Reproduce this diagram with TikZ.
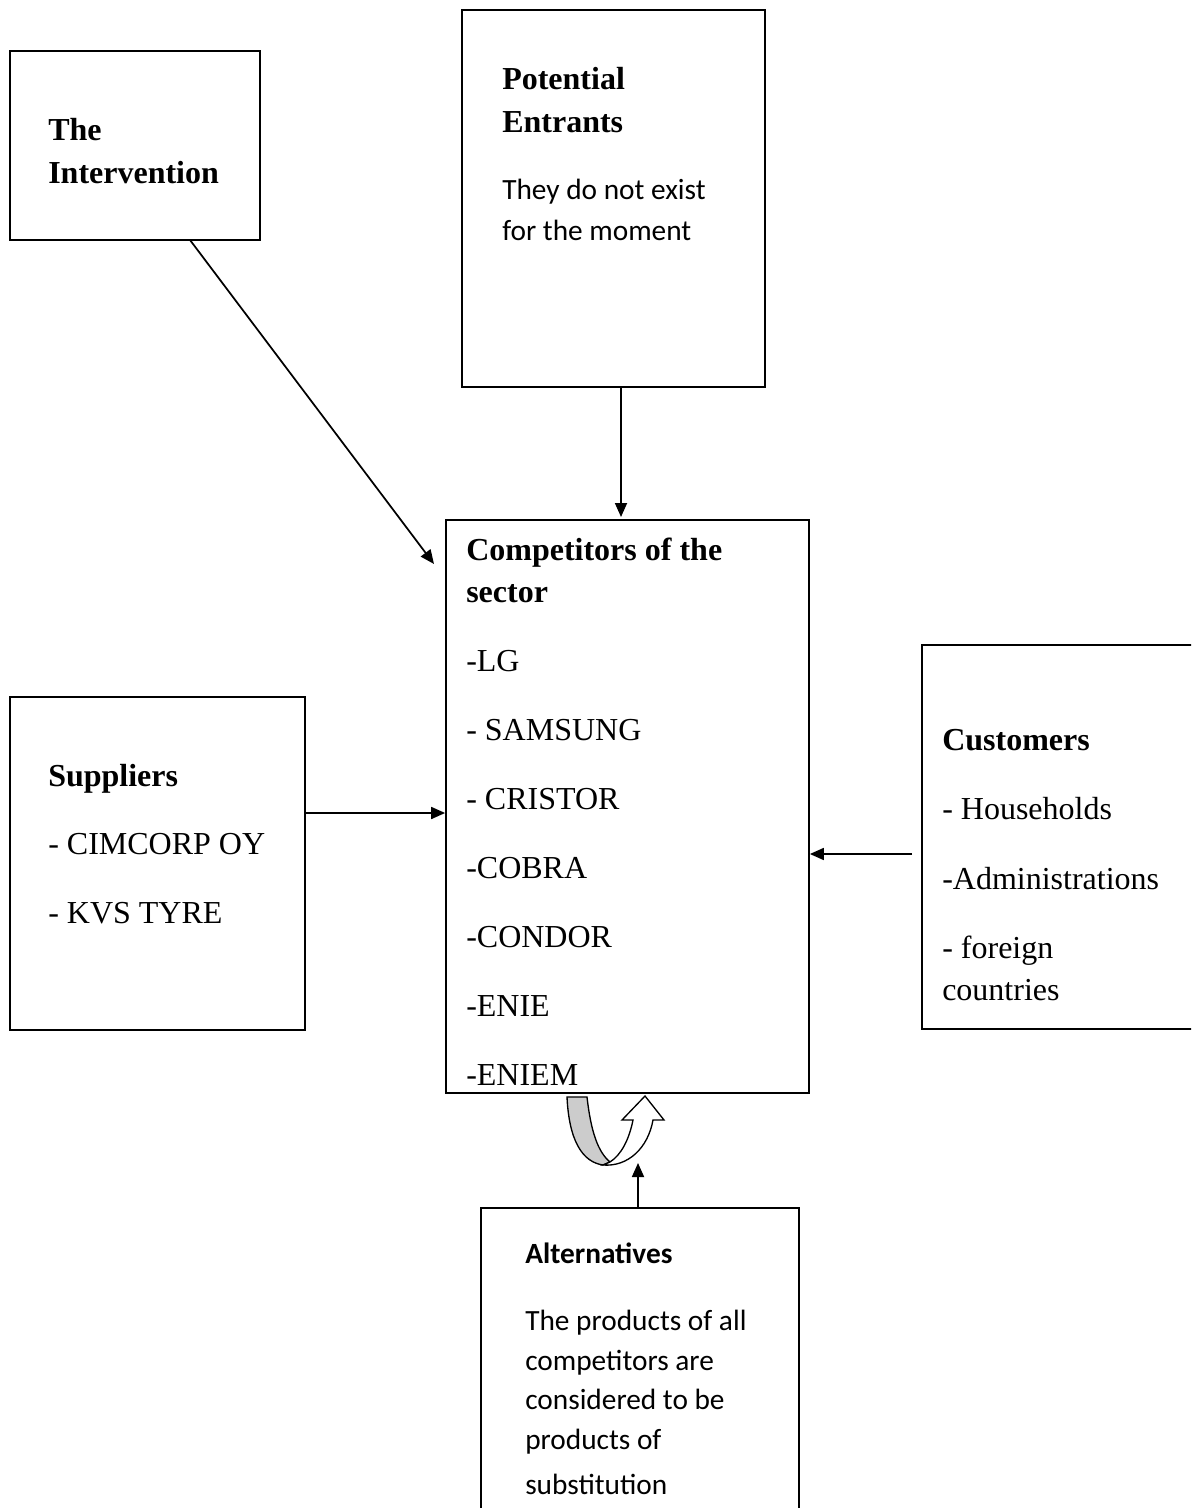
\documentclass[tikz,border=0pt]{standalone}
\usepackage{fontspec}
\setmainfont{Liberation Serif}
\newfontfamily\calfont{Carlito}
\usetikzlibrary{arrows.meta,calc}
\begin{document}
\begin{tikzpicture}[x=0.75pt,y=-0.75pt,
  box/.style={draw,line width=1.3pt,rectangle,inner sep=0pt},
  txt/.style={anchor=base west,inner sep=0pt,font=\fontsize{24}{29}\selectfont},
  btxt/.style={txt,font=\fontsize{24}{29}\selectfont\bfseries},
  stxt/.style={anchor=base west,inner sep=0pt,font=\calfont\fontsize{22}{26}\selectfont},
  sbtxt/.style={stxt,font=\calfont\fontsize{22}{26}\selectfont\bfseries},
  arr/.style={line width=1.3pt,-{Triangle[length=10.5pt,width=9pt]}}]
\useasboundingbox (0,0) rectangle (1191,1508);
\clip (0,0) rectangle (1191,1508);
% boxes
\node[box,minimum width=250*0.75pt,minimum height=189*0.75pt] (int) at (135,145.5) {};
\node[box,minimum width=303*0.75pt,minimum height=377*0.75pt] (pot) at (613.5,198.5) {};
\node[box,minimum width=363*0.75pt,minimum height=573*0.75pt] (comp) at (627.5,806.5) {};
\node[box,minimum width=295*0.75pt,minimum height=333*0.75pt] (sup) at (157.5,863.5) {};
\node[box,minimum width=274*0.75pt,minimum height=384*0.75pt] (cus) at (1059,837) {};
\node[box,minimum width=318*0.75pt,minimum height=330*0.75pt] (alt) at (640,1373) {};
% texts
\node[btxt] (i1) at (48,141) {The};
\node[btxt] (i2) at (48,184) {Intervention};
\node[btxt] (p1) at (502,90) {Potential};
\node[btxt] (p2) at (502,133) {Entrants};
\node[stxt] (p3) at (502,200) {They do not exist};
\node[stxt] (p4) at (502,241) {for the moment};
\node[btxt] (c1) at (466,560) {Competitors of the};
\node[btxt] (c2) at (466,602) {sector};
\node[txt] (c3) at (466,671) {-LG};
\node[txt] (c4) at (466,740) {- SAMSUNG};
\node[txt] (c5) at (466,809) {- CRISTOR};
\node[txt] (c6) at (466,878) {-COBRA};
\node[txt] (c7) at (466,947) {-CONDOR};
\node[txt] (c8) at (466,1016) {-ENIE};
\node[txt] (c9) at (466,1085) {-ENIEM};
\node[btxt] (s1) at (48,786) {Suppliers};
\node[txt] (s2) at (48,854) {- CIMCORP OY};
\node[txt] (s3) at (48,923) {- KVS TYRE};
\node[btxt] (u1) at (942,750) {Customers};
\node[txt] (u2) at (942,819) {- Households};
\node[txt] (u3) at (942,889) {-Administrations};
\node[txt] (u4) at (942,958) {- foreign};
\node[txt] (u5) at (942,1000) {countries};
\node[sbtxt] (a1) at (525,1263) {Alternatives};
\node[stxt] (a2) at (525,1330) {The products of all};
\node[stxt] (a3) at (525,1370) {competitors are};
\node[stxt] (a4) at (525,1409) {considered to be};
\node[stxt] (a5) at (525,1449) {products of};
\node[stxt] (a6) at (525,1494) {substitution};
% connectors
\coordinate (intS) at (190,240);
\coordinate (compNW) at (434,564);
\draw[arr] (intS) -- (compNW);
\draw[arr] (pot.south -| 621,0) -- (621,517);
\draw[arr] (sup.east |- 0,813) -- (comp.west |- 0,813);
\coordinate (cusL) at (912,854);
\draw[arr] (cusL) -- (comp.east |- 0,854);
\coordinate (altT) at (638,1163);
\draw[arr] (alt.north -| 638,0) -- (altT);
% U-turn arrow
\filldraw[line width=1pt,fill=gray!40] (567,1097) -- (587,1097)
  .. controls (591,1132) and (598,1152) .. (610,1162)
  -- (603,1165) .. controls (582,1162) and (569,1140) .. (567,1097) -- cycle;
\filldraw[line width=1pt,fill=white] (603,1165)
  .. controls (628,1167) and (648,1148) .. (653,1120)
  -- (664,1120) -- (645,1096) -- (622,1120) -- (633,1120)
  .. controls (629,1140) and (621,1155) .. (610,1162) -- cycle;
\end{tikzpicture}
\end{document}
